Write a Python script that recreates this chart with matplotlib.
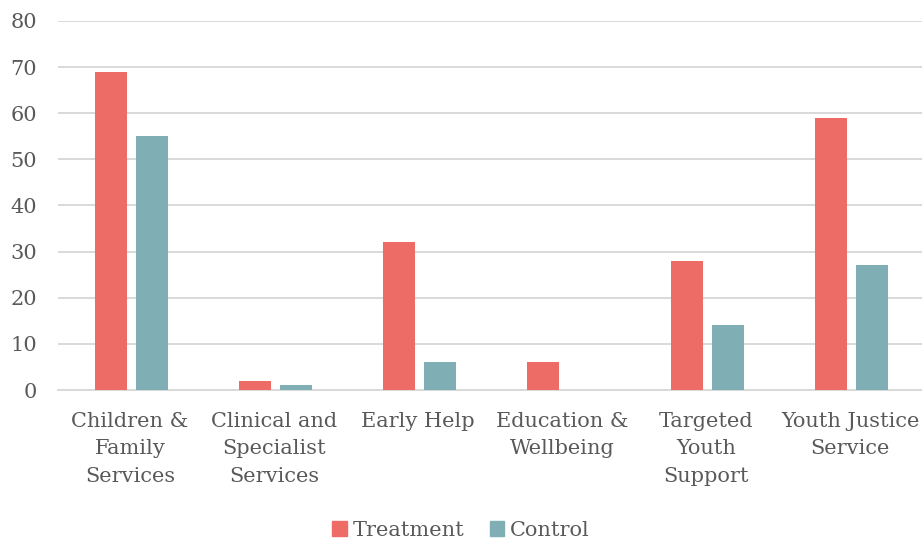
import numpy as np
import matplotlib.pyplot as plt
from matplotlib.patches import Patch

categories = ['Children &\nFamily\nServices', 'Clinical and\nSpecialist\nServices', 'Early Help',
              'Education &\nWellbeing', 'Targeted\nYouth\nSupport', 'Youth Justice\nService']
treatment = [69, 2, 32, 6, 28, 59]
control = [55, 1, 6, 0, 14, 27]

c_treat = '#EE6C66'
c_ctrl = '#7FAFB5'
txt = '#595959'

plt.rcParams['font.family'] = ['DejaVu Serif']

fig = plt.figure(figsize=(9.22, 5.42), dpi=100)
ax = fig.add_axes([0.063, 0.2804, 0.937, 0.6809])

x = np.arange(len(categories))
w = 0.222
ax.bar(x - 0.135, treatment, w, color=c_treat, zorder=3)
ax.bar(x + 0.15, control, w, color=c_ctrl, zorder=3)

ax.set_xlim(-0.5, len(categories) - 0.5)
ax.set_ylim(0, 80)
ax.set_yticks(range(0, 81, 10))
ax.yaxis.grid(True, color='#D9D9D9', linewidth=1.4, zorder=0)
ax.set_axisbelow(True)
for s in ['top', 'right', 'left']:
    ax.spines[s].set_visible(False)
ax.spines['bottom'].set_color('#D9D9D9')
ax.spines['bottom'].set_linewidth(1.4)
ax.tick_params(axis='both', length=0, labelsize=15, labelcolor=txt)
ax.tick_params(axis='y', pad=15)
ax.tick_params(axis='x', pad=16)
ax.set_xticks(x)
ax.set_xticklabels(categories, linespacing=1.55)
for lab in ax.get_xticklabels():
    lab.set_verticalalignment('top')

handles = [Patch(color=c_treat, label='Treatment'), Patch(color=c_ctrl, label='Control')]
leg = fig.legend(handles=handles, loc='center', bbox_to_anchor=(0.5, 0.022), ncol=2, frameon=False,
                 fontsize=15, handlelength=0.7, handleheight=0.7, handletextpad=0.3, columnspacing=1.2)
for t in leg.get_texts():
    t.set_color(txt)

fig.savefig('out.png', dpi=100)
